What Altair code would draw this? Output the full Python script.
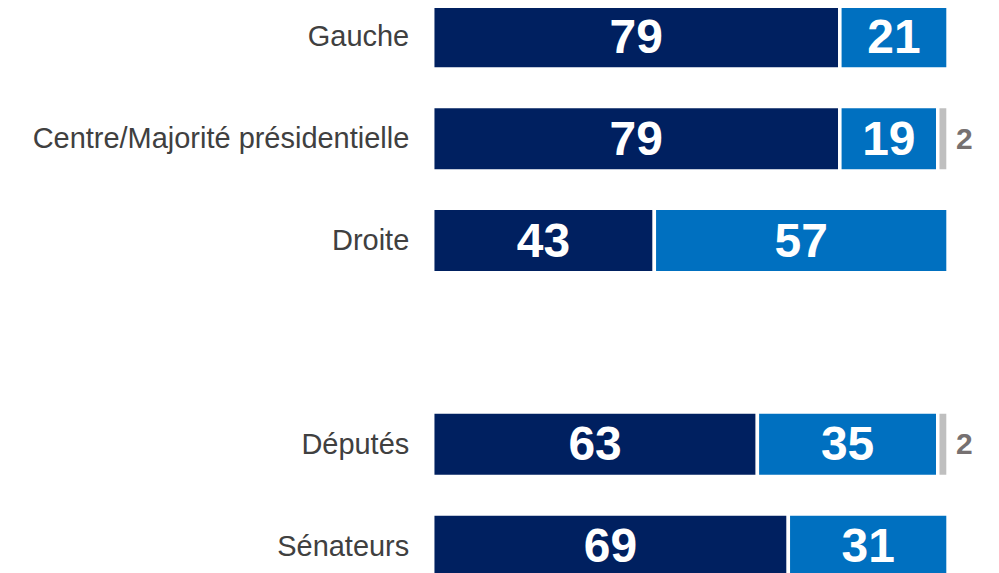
import altair as alt
import pandas as pd

categories = ["Gauche", "Centre/Majorité présidentielle", "Droite", "Députés", "Sénateurs"]
row_pos = [0, 1, 2, 4, 5]
series_names = ["A", "B", "C"]
val_a = [79, 79, 43, 63, 69]
val_b = [21, 19, 57, 35, 31]
val_c = [0, 2, 0, 2, 0]
colors = ["#002060", "#0070C0", "#BFBFBF"]

half = 0.316
rows = []
for cat, pos, a, b, c in zip(categories, row_pos, val_a, val_b, val_c):
    start = 0
    for name, v in zip(series_names, [a, b, c]):
        if v > 0:
            rows.append({"cat": cat, "pos": pos, "series": name, "value": v,
                         "start": start, "end": start + v,
                         "mid": start + v / 2,
                         "y0": pos - half, "y1": pos + half})
        start += v
df = pd.DataFrame(rows)

label_expr = "[" + ",".join(f"'{c}'" for c in categories) + "]"
pos_expr = "[" + ",".join(str(p) for p in row_pos) + "]"

xscale = alt.Scale(domain=[0, 100], nice=False, zero=False)
yscale = alt.Scale(domain=[-0.2794, 5.2598], nice=False, zero=False, reverse=True)

base = alt.Chart(df)

bars = base.mark_rect(stroke="white", strokeWidth=3.5).encode(
    x=alt.X("start:Q", scale=xscale, axis=None),
    x2="end:Q",
    y=alt.Y("y0:Q", scale=yscale,
            axis=alt.Axis(values=row_pos, title=None, domain=False, ticks=False, grid=False,
                          labelExpr=f"{label_expr}[indexof({pos_expr}, datum.value)]",
                          labelFont="Liberation Sans", labelFontSize=29,
                          labelColor="#404040", labelPadding=24, labelLimit=500)),
    y2="y1:Q",
    color=alt.Color("series:N", scale=alt.Scale(domain=series_names, range=colors), legend=None),
)

inner = base.transform_filter("datum.series != 'C'").mark_text(
    font="Liberation Sans", fontSize=48, fontWeight="bold", color="white", baseline="middle", dy=2
).encode(
    x=alt.X("mid:Q", scale=xscale),
    y=alt.Y("pos:Q", scale=yscale),
    text="value:Q",
)

outer = base.transform_filter("datum.series == 'C'").mark_text(
    font="Liberation Sans", fontSize=30, fontWeight="bold", color="#767171",
    align="left", baseline="middle", dx=8, dy=1
).encode(
    x=alt.X("end:Q", scale=xscale),
    y=alt.Y("pos:Q", scale=yscale),
    text="value:Q",
)

chart = alt.layer(bars, inner, outer).properties(
    width=516, height=565,
    padding={"left": 425.25, "top": 0, "right": 43, "bottom": 0},
    autosize=alt.AutoSizeParams(type="none"),
).configure_view(stroke=None)

chart.save("out.html", embed_options={"renderer": "svg", "actions": False})
